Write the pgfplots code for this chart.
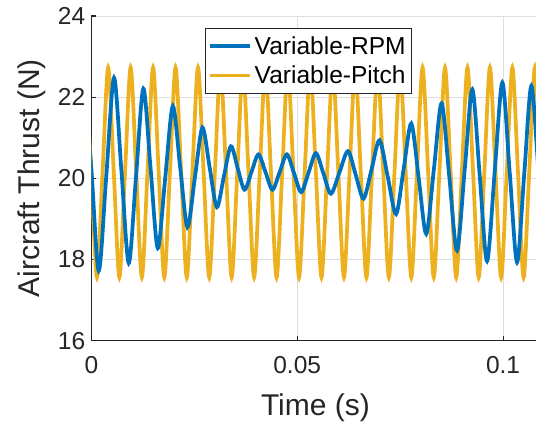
\documentclass[border=0pt]{standalone}
\usepackage{pgfplots}
\pgfplotsset{compat=1.18}
\usepackage{pgfplotstable}
\usepackage{fontspec}
\setmainfont{Liberation Sans}
\definecolor{mblue}{HTML}{0072BD}
\definecolor{myellow}{HTML}{EDB120}
\definecolor{axgray}{HTML}{262626}

\pgfplotstableread{
t v
-0.0018 22.45
0 20.24
0.001799 17.72
0.003659 20.10
0.005518 22.48
0.007305 20.195
0.009091 17.91
0.010866 20.06
0.012640 22.21
0.014390 20.245
0.016140 18.28
0.017963 20.03
0.019786 21.78
0.021561 20.29
0.023335 18.80
0.025158 20.025
0.026981 21.25
0.028731 20.27
0.030481 19.29
0.032183 20.04
0.033884 20.79
0.035537 20.255
0.037190 19.72
0.038892 20.155
0.040593 20.59
0.042295 20.155
0.043996 19.72
0.045746 20.155
0.047496 20.59
0.049234 20.125
0.050972 19.66
0.052759 20.14
0.054545 20.62
0.056368 20.12
0.058191 19.62
0.060258 20.145
0.062324 20.67
0.064220 20.085
0.066116 19.50
0.068061 20.22
0.070005 20.94
0.072011 20.03
0.074016 19.12
0.075863 20.235
0.077710 21.35
0.079533 19.99
0.081356 18.63
0.083216 20.24
0.085075 21.85
0.086947 20.035
0.088819 18.22
0.090679 20.205
0.092538 22.19
0.094325 20.075
0.096111 17.96
0.097971 20.16
0.099830 22.36
0.101617 20.145
0.103403 17.93
0.105141 20.105
0.106879 22.28
0.108653 20.10
0.110404 17.90
}\rpm

\pgfplotstableread{
t v
-0.0013635 22.73
0 20.145
0.0013635 17.56
0.0027270 20.145
0.0040905 22.73
0.0054540 20.145
0.0068175 17.56
0.0081810 20.145
0.0095445 22.73
0.0109080 20.145
0.0122715 17.56
0.0136350 20.145
0.0149985 22.73
0.0163620 20.145
0.0177255 17.56
0.0190890 20.145
0.0204525 22.73
0.0218160 20.145
0.0231795 17.56
0.0245430 20.145
0.0259065 22.73
0.0272700 20.145
0.0286335 17.56
0.0299970 20.145
0.0313605 22.73
0.0327240 20.145
0.0340875 17.56
0.0354510 20.145
0.0368145 22.73
0.0381780 20.145
0.0395415 17.56
0.0409050 20.145
0.0422685 22.73
0.0436320 20.145
0.0449955 17.56
0.0463590 20.145
0.0477225 22.73
0.0490860 20.145
0.0504495 17.56
0.0518130 20.145
0.0531765 22.73
0.0545400 20.145
0.0559035 17.56
0.0572670 20.145
0.0586305 22.73
0.0599940 20.145
0.0613575 17.56
0.0627210 20.145
0.0640845 22.73
0.0654480 20.145
0.0668115 17.56
0.0681750 20.145
0.0695385 22.73
0.0709020 20.145
0.0722655 17.56
0.0736290 20.145
0.0749925 22.73
0.0763560 20.145
0.0777195 17.56
0.0790830 20.145
0.0804465 22.73
0.0818100 20.145
0.0831735 17.56
0.0845370 20.145
0.0859005 22.73
0.0872640 20.145
0.0886275 17.56
0.0899910 20.145
0.0913545 22.73
0.0927180 20.145
0.0940815 17.56
0.0954450 20.145
0.0968085 22.73
0.0981720 20.145
0.0995355 17.56
0.1008990 20.145
0.1022625 22.73
0.1036260 20.145
0.1049895 17.56
0.1063530 20.145
0.1077165 22.73
0.1090800 20.145
}\pitch

\begin{document}
\begin{tikzpicture}
\useasboundingbox (-68.5pt,-63.2pt) rectangle (333.5pt,255.5pt);
\begin{axis}[
  at={(0pt,0pt)}, anchor=south west,
  scale only axis, width=333.5pt, height=243.5pt,
  xmin=0, xmax=0.108, ymin=16, ymax=24,
  enlargelimits=false,
  axis lines*=left,
  axis line style={draw=axgray, line width=0.8pt},
  xtick={0,0.05,0.1}, xticklabels={0,0.05,0.1},
  ytick={16,18,20,22,24}, yticklabels={16,18,20,22,24},
  tick align=inside,
  major tick length=3.75pt,
  tick style={draw=axgray, line width=0.8pt},
  grid=major,
  major grid style={draw=black!13, line width=0.7pt},
  ticklabel style={font=\fontsize{18.4}{22}\selectfont, text=axgray},
  xticklabel style={yshift=-8pt},
  yticklabel style={xshift=-1pt},
  /pgf/number format/assume math mode=true,
  every axis x label/.style={at={(axis description cs:0.504,0)}, yshift=-56.4pt, anchor=base},
  every axis y label/.style={at={(axis description cs:0,0.5)}, xshift=-44.5pt, rotate=90, anchor=center},
  label style={font=\fontsize{22.5}{26}\selectfont, text=axgray},
  xlabel={Time (s)},
  ylabel={Aircraft Thrust (N)},
  reverse legend,
  legend cell align=left,
  legend style={at={(0.488,0.963)}, anchor=north, draw=axgray, line width=0.6pt,
    fill=white, font=\fontsize{18.4}{22}\selectfont, inner xsep=2pt, inner ysep=4pt,
    row sep=3pt},
  legend image code/.code={\draw[#1] (0pt,0pt) -- (30pt,0pt);},
]
\addplot[myellow, line width=2.8pt, smooth] table[x=t, y=v] {\pitch};
\addlegendentry{Variable-Pitch}
\addplot[mblue, line width=2.8pt, smooth] table[x=t, y=v] {\rpm};
\addlegendentry{Variable-RPM}
\end{axis}
\end{tikzpicture}
\end{document}
